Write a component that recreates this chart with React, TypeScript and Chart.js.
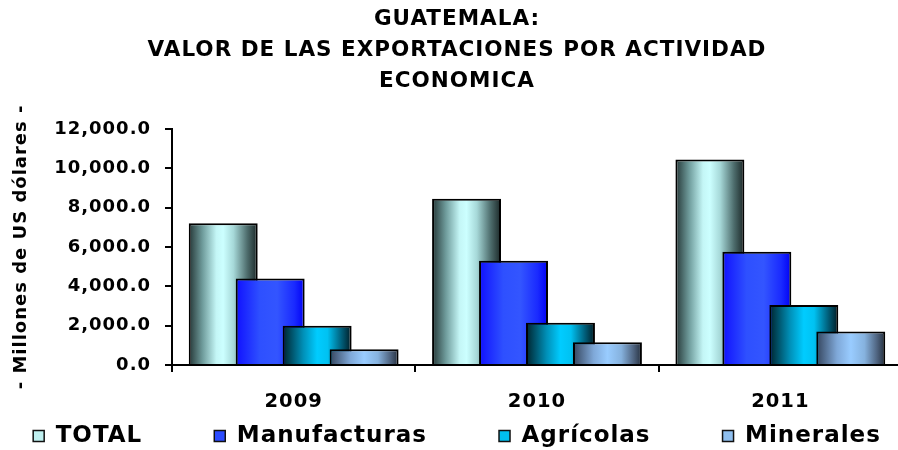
import React, { useEffect, useRef } from 'react';
import { Chart, registerables } from 'chart.js';

Chart.register(...registerables);

// ---- data ----
const years = ['2009', '2010', '2011'];
const seriesNames = ['TOTAL', 'Manufacturas', 'Agrícolas', 'Minerales'];
const totalValues = [7200, 8450, 10450];
const manufacturasValues = [4400, 5300, 5750];
const agricolasValues = [2000, 2150, 3050];
const mineralesValues = [800, 1150, 1700];
const titleLines = ['GUATEMALA:', 'VALOR DE LAS EXPORTACIONES POR ACTIVIDAD', 'ECONOMICA'];
const yAxisTitle = '- Millones de US dólares -';
const yMin = 0;
const yMax = 12000;
const yStep = 2000;

// ---- styles ----
const FONT = "'DejaVu Sans', 'Liberation Sans', Arial, sans-serif";
const legendFills = ['#bff0f0', '#2b4bff', '#00bfef', '#8fbfef'];
const gradientStops: [number, string][][] = [
  [[0, '#243636'], [0.2, '#6f9c9c'], [0.4, '#c4f6f6'], [0.5, '#ccffff'], [0.65, '#a6d8d8'], [0.85, '#4d6c6c'], [1, '#1a2626']],
  [[0, '#1010ff'], [0.35, '#2e50ff'], [0.6, '#3355ff'], [0.85, '#1a2aff'], [1, '#0000f5']],
  [[0, '#00222c'], [0.3, '#0090b8'], [0.5, '#00ccff'], [0.65, '#00c2f2'], [0.85, '#00607c'], [1, '#001a22']],
  [[0, '#34445c'], [0.3, '#7fa8d8'], [0.5, '#99ccff'], [0.7, '#86b2de'], [0.88, '#4f6480'], [1, '#242e3c']],
];
const LEGEND_PADDING = 72;
const LEGEND_HEIGHT = 18.6;
const LEGEND_TEXT_Y = 436;

const seriesValues = [totalValues, manufacturasValues, agricolasValues, mineralesValues];

const spacingPlugin = {
  id: 'letterSpacing',
  beforeUpdate(chart: any) { chart.ctx.letterSpacing = '1px'; },
  beforeLayout(chart: any) { chart.ctx.letterSpacing = '1px'; },
  beforeDraw(chart: any) { chart.ctx.letterSpacing = '1px'; },
};

// legend: single wide row with generous spacing, compact height
const legendLayoutPlugin = {
  id: 'legendLayout',
  afterInit(chart: any) {
    const lg = chart.legend;
    if (!lg) return;
    const origFit = lg.fit.bind(lg);
    lg.fit = function () {
      const mw = this.maxWidth;
      this.maxWidth = 100000;
      origFit();
      this.maxWidth = mw;
      this.width = mw;
      this.height = LEGEND_HEIGHT;
    };
    const origDraw = lg.draw.bind(lg);
    lg.draw = function () {
      const { top, left, right } = this;
      const itemH = Math.max(this.options.labels.boxHeight || 0, this.options.labels.font.size || 12);
      this.top = LEGEND_TEXT_Y - itemH / 2 - this.options.labels.padding;
      this.left = left - 300;
      this.right = right + 300;
      origDraw();
      this.top = top;
      this.left = left;
      this.right = right;
    };
  },
};

// draws datasets first-to-last (later series in front) with cylinder-like gradients
const barLookPlugin = {
  id: 'barLook',
  beforeDatasetsDraw(chart: any) {
    const ctx = chart.ctx;
    const metas = chart.getSortedVisibleDatasetMetas();
    for (const meta of metas) {
      const stops = gradientStops[meta.index];
      for (const el of meta.data) {
        const { x, width } = el.getProps(['x', 'width'], true);
        const g = ctx.createLinearGradient(x - width / 2, 0, x + width / 2, 0);
        stops.forEach(([o, c]) => g.addColorStop(o, c));
        el.options = Object.assign({}, el.options, { backgroundColor: g });
      }
      meta.controller.draw();
    }
    return false;
  },
};

const fmt = (v: number) =>
  Number(v).toLocaleString('en-US', { minimumFractionDigits: 1, maximumFractionDigits: 1 });

export default function App() {
  const ref = useRef<HTMLCanvasElement>(null);

  useEffect(() => {
    if (!ref.current) return;
    Chart.defaults.font.family = FONT;
    const chart = new Chart(ref.current, {
      type: 'bar',
      data: {
        labels: years,
        datasets: seriesNames.map((name, i) => ({
          label: name,
          data: seriesValues[i],
          backgroundColor: legendFills[i],
          borderColor: '#000',
          borderWidth: 2,
          categoryPercentage: 0.772,
          barPercentage: 1.468,
        })),
      },
      plugins: [spacingPlugin, legendLayoutPlugin, barLookPlugin],
      options: {
        responsive: false,
        animation: false,
        layout: { padding: { left: 12, right: 0, top: 0, bottom: 0 } },
        plugins: {
          title: {
            display: true,
            text: titleLines,
            color: '#000',
            font: { family: FONT, size: 21.5, weight: 'bold', lineHeight: 1.44 },
            padding: { top: 4, bottom: 32 },
          },
          legend: {
            position: 'bottom',
            labels: {
              boxWidth: 11,
              boxHeight: 11,
              padding: LEGEND_PADDING,
              color: '#000',
              font: { family: FONT, size: 23, weight: 'bold' },
              generateLabels: (c: any) =>
                Chart.defaults.plugins.legend.labels.generateLabels(c).map((l: any) => ({
                  ...l,
                  lineWidth: 1.5,
                  strokeStyle: '#111',
                })),
            },
          },
          tooltip: { enabled: false },
        },
        scales: {
          x: {
            offset: true,
            grid: {
              offset: true,
              drawOnChartArea: false,
              drawTicks: true,
              tickLength: 7,
              color: '#000',
              lineWidth: 2,
            },
            border: { display: true, color: '#000', width: 2 },
            ticks: {
              color: '#000',
              font: { family: FONT, size: 19.5, weight: 'bold' },
              padding: 18,
            },
          },
          y: {
            min: yMin,
            max: yMax,
            ticks: {
              stepSize: yStep,
              color: '#000',
              font: { family: FONT, size: 18, weight: 'bold' },
              padding: 14,
              callback: (v: any) => fmt(v),
            },
            grid: { drawOnChartArea: false, drawTicks: true, tickLength: 7, color: '#000', lineWidth: 2 },
            border: { display: true, color: '#000', width: 2 },
            title: {
              display: true,
              text: yAxisTitle,
              color: '#000',
              font: { family: FONT, size: 18, weight: 'bold', lineHeight: 1 },
              padding: 0,
            },
            afterFit: (s: any) => { s.width = 160; },
          },
        },
      } as any,
    });
    return () => chart.destroy();
  }, []);

  return (
    <div
      style={{
        position: 'absolute',
        left: 0,
        top: 0,
        width: 898,
        height: 450,
        overflow: 'hidden',
        background: '#fff',
      }}
    >
      <canvas ref={ref} width={902} height={450} style={{ display: 'block' }} />
    </div>
  );
}
